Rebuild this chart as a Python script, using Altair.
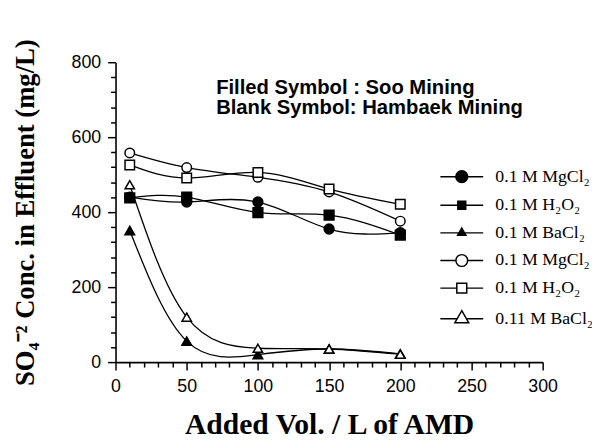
import altair as alt
import pandas as pd
import math

# ---------------- data ----------------
x_vals = [10, 50, 100, 150, 200]
keys = ["s1", "s2", "s3", "s4", "s5", "s6"]
labels = ["0.1 M MgCl₂", "0.1 M H₂O₂", "0.1 M BaCl₂",
          "0.1 M MgCl₂", "0.1 M H₂O₂", "0.11 M BaCl₂"]
soo_mgcl2 = [440, 427, 427, 355, 345]
soo_h2o2 = [438, 440, 399, 392, 339]
soo_bacl2 = [351, 56, 20, 35, 22]
hb_mgcl2 = [558, 519, 493, 454, 376]
hb_h2o2 = [526, 491, 506, 462, 421]
hb_bacl2 = [473, 120, 37, 35, 21]
series_vals = [soo_mgcl2, soo_h2o2, soo_bacl2, hb_mgcl2, hb_h2o2, hb_bacl2]
annotation = ["Filled Symbol : Soo Mining", "Blank Symbol: Hambaek Mining"]
x_ticks = list(range(0, 301, 10))
y_ticks = list(range(0, 801, 40))

rows = []
for k, vals in zip(keys, series_vals):
    for xv, yv in zip(x_vals, vals):
        rows.append({"key": k, "x": xv, "y": yv})
df = pd.DataFrame(rows)

# ---------------- styles ----------------
shapes = ["circle", "square", "triangle-up", "circle", "square", "triangle-up"]
fills = ["black", "black", "black", "white", "white", "white"]
strokes = ["black"] * 6
sizes = [100, 90, 110, 125, 115, 175]

K = 0.5523
L = 3.1  # half length of legend line (units)


def fmt(v):
    return f"{v:.3f}"


def circle_path(r):
    k = K * r
    return (f"M{fmt(r)},0C{fmt(r)},{fmt(k)} {fmt(k)},{fmt(r)} 0,{fmt(r)}"
            f"C{fmt(-k)},{fmt(r)} {fmt(-r)},{fmt(k)} {fmt(-r)},0"
            f"C{fmt(-r)},{fmt(-k)} {fmt(-k)},{fmt(-r)} 0,{fmt(-r)}"
            f"C{fmt(k)},{fmt(-r)} {fmt(r)},{fmt(-k)} {fmt(r)},0Z"), r


def square_path(a):
    return f"M{fmt(-a)},{fmt(-a)}L{fmt(a)},{fmt(-a)}L{fmt(a)},{fmt(a)}L{fmt(-a)},{fmt(a)}Z", a


def tri_path(w):
    h = w * math.sqrt(3)
    return (f"M0,{fmt(-2*h/3)}L{fmt(w)},{fmt(h/3)}L{fmt(-w)},{fmt(h/3)}Z"), 2 * w / 3


def with_line(marker):
    p, e = marker
    return f"M{fmt(-L)},0L{fmt(-e)},0M{fmt(e)},0L{fmt(L)},0" + p


legend_paths = [
    with_line(circle_path(0.86)),
    with_line(square_path(0.57)),
    with_line(tri_path(0.6)),
    with_line(circle_path(0.85)),
    with_line(square_path(0.72)),
    with_line(tri_path(1.0)),
]

label_expr = " : ".join(
    f"datum.value == '{k}' ? '{lab}'" for k, lab in zip(keys, labels)
) + " : ''"

AX = dict(
    domainColor="black", domainWidth=1.6, tickColor="black", tickWidth=1.5,
    labelFont="Liberation Sans", labelFontSize=18, labelColor="black",
    titleFont="Liberation Serif", titleFontWeight="bold",
    titleColor="black", grid=False,
)

x_enc = alt.X("x:Q", scale=alt.Scale(domain=[0, 300], nice=False),
              axis=alt.Axis(
                  values=x_ticks,
                  labelExpr="datum.value % 50 === 0 ? datum.label : ''",
                  tickSize={"condition": {"test": "datum.value % 50 === 0", "value": 8}, "value": 5},
                  labelPadding=8, titlePadding=14, titleFontSize=30, labelFlush=False,
                  title="Added Vol. / L of AMD", **AX))
y_enc = alt.Y("y:Q", scale=alt.Scale(domain=[0, 800], nice=False),
              axis=alt.Axis(
                  values=y_ticks,
                  labelExpr="datum.value % 200 === 0 ? datum.label : ''",
                  tickSize={"condition": {"test": "datum.value % 200 === 0", "value": 8}, "value": 5},
                  labelPadding=7, titlePadding=32, titleFontSize=27,
                  title="SO₄⁻² Conc. in Effluent (mg/L)", **AX))

lines = alt.Chart(df).mark_line(interpolate="natural", color="black", strokeWidth=1.3).encode(
    x=x_enc, y=y_enc, detail="key:N")

points = alt.Chart(df).mark_point(filled=True, stroke="black", strokeWidth=1.5, opacity=1).encode(
    x=x_enc, y=y_enc,
    shape=alt.Shape("key:N", scale=alt.Scale(domain=keys, range=shapes), legend=None),
    fill=alt.Fill("key:N", scale=alt.Scale(domain=keys, range=fills), legend=None),
    size=alt.Size("key:N", scale=alt.Scale(domain=keys, range=sizes), legend=None),
)

leg = alt.Legend(
    orient="none", legendX=342, legendY=107, title=None, padding=0,
    symbolSize=196, symbolStrokeWidth=1.5, symbolStrokeColor="black",
    labelFont="Liberation Serif", labelFontSize=18, labelColor="black",
    labelOffset=25, rowPadding=10, labelExpr=label_expr, labelLimit=200,
)

legend_layer = alt.Chart(df).transform_filter("false").mark_point(
    filled=True, strokeWidth=1.5, opacity=1).encode(
    shape=alt.Shape("key:N", scale=alt.Scale(domain=keys, range=legend_paths), legend=leg),
    fill=alt.Fill("key:N", scale=alt.Scale(domain=keys, range=fills), legend=leg),
    stroke=alt.Stroke("key:N", scale=alt.Scale(domain=keys, range=strokes), legend=leg),
)

annot_df = pd.DataFrame({"t": ["\n".join(annotation)]})
annot = alt.Chart(annot_df).mark_text(
    align="left", baseline="middle", font="Liberation Sans", fontWeight="bold",
    fontSize=20.5, lineHeight=21, lineBreak="\n", color="black",
).encode(x=alt.value(102), y=alt.value(26), text="t:N")

chart = alt.layer(lines, points, legend_layer, annot).resolve_scale(
    shape="independent", fill="independent", size="independent", stroke="independent"
).properties(
    width=433, height=304,
    padding={"left": 109, "top": 52, "right": 50, "bottom": 76},
    autosize=alt.AutoSizeParams(type="none"),
    background="white",
).configure_view(stroke=None)

chart.save("out.html", embed_options={"renderer": "svg", "actions": False})
